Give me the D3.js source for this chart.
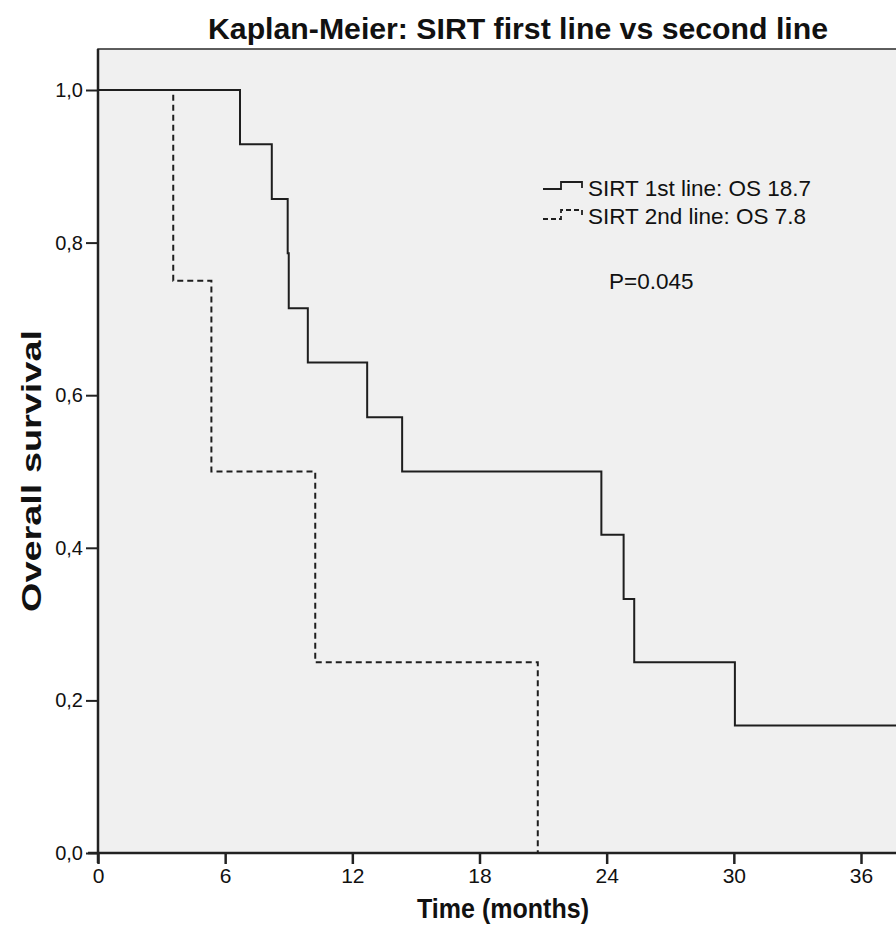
<!DOCTYPE html>
<html>
<head>
    <script src="https://cdnjs.cloudflare.com/ajax/libs/d3/7.8.5/d3.min.js"></script>
    <style>
        body { margin: 0; background: #fff; }
        text { font-family: 'Liberation Sans', Arial, sans-serif; fill: #111; }
    </style>
</head>
<body>
    <div id="root"></div>
    <script>
        // survival steps
        let firstTimes = [0, 6.7, 8.2, 8.95, 9.0, 9.9, 12.7, 14.35, 23.75, 24.8, 25.3, 30.05, 44]
        let firstSurv = [1, 0.929, 0.857, 0.786, 0.714, 0.643, 0.571, 0.5, 0.417, 0.333, 0.25, 0.167, 0.167]
        let secondTimes = [0, 3.55, 5.35, 10.25, 20.75]
        let secondSurv = [1, 0.75, 0.5, 0.25, 0]
        let xTicks = [0, 6, 12, 18, 24, 30, 36]
        let yTicks = [0, 0.2, 0.4, 0.6, 0.8, 1.0]
        let legendLabels = ['SIRT 1st line: OS 18.7', 'SIRT 2nd line: OS 7.8']

        const w = 896
        const h = 938

        const svg = d3.select('#root').append('svg')
            .attr('width', w)
            .attr('height', h)

        const x = d3.scaleLinear().domain([0, 36]).range([98, 861])
        const y = d3.scaleLinear().domain([0, 1]).range([853, 90])

        // plot frame (runs off the right edge like the original)
        svg.append('rect')
            .attr('x', 98).attr('y', 49)
            .attr('width', 860).attr('height', 853 - 49)
            .attr('fill', '#f0f0f0')
            .attr('stroke', '#2a2a2a')
            .attr('stroke-width', 1.5)

        // title
        svg.append('text')
            .attr('x', 518).attr('y', 39)
            .attr('text-anchor', 'middle')
            .attr('font-size', 29)
            .attr('font-weight', 'bold')
            .attr('textLength', 620)
            .attr('lengthAdjust', 'spacingAndGlyphs')
            .text('Kaplan-Meier: SIRT first line vs second line')

        // axes
        const xAxis = svg.append('g')
            .attr('transform', 'translate(0,853)')
            .call(d3.axisBottom(x).tickValues(xTicks).tickSize(11).tickSizeOuter(0).tickPadding(4))
        xAxis.select('.domain').attr('d', 'M88,0H' + (w + 10)).attr('stroke', '#222').attr('stroke-width', 2.5)
        xAxis.selectAll('.tick line').attr('stroke', '#222').attr('stroke-width', 2.5)
        xAxis.selectAll('.tick text')
            .attr('font-size', 21)
            .attr('fill', '#111')
            .attr('font-family', "'Liberation Sans Narrow', 'Liberation Sans', Arial, sans-serif")

        const yAxis = svg.append('g')
            .attr('transform', 'translate(98,0)')
            .call(d3.axisLeft(y).tickValues(yTicks).tickSize(12).tickSizeOuter(0).tickPadding(3)
                .tickFormat(d => d3.format('.1f')(d).replace('.', ',')))
        yAxis.select('.domain').attr('stroke', '#222').attr('stroke-width', 2.5)
            .attr('d', 'M0,49V' + 863)
        yAxis.selectAll('.tick line').attr('stroke', '#222').attr('stroke-width', 2)
        yAxis.selectAll('.tick text').attr('font-size', 20).attr('fill', '#111')

        // axis titles
        svg.append('text')
            .attr('x', 503).attr('y', 918)
            .attr('text-anchor', 'middle')
            .attr('font-size', 27)
            .attr('font-weight', 'bold')
            .attr('textLength', 172)
            .attr('lengthAdjust', 'spacingAndGlyphs')
            .text('Time (months)')

        svg.append('text')
            .attr('transform', 'translate(41,471) rotate(-90)')
            .attr('text-anchor', 'middle')
            .attr('font-size', 28)
            .attr('font-weight', 'bold')
            .attr('textLength', 282)
            .attr('lengthAdjust', 'spacingAndGlyphs')
            .text('Overall survival')

        // curves
        const line = d3.line()
            .x(d => x(d[0]))
            .y(d => y(d[1]))
            .curve(d3.curveStepAfter)

        const clip = svg.append('clipPath').attr('id', 'plotclip')
        clip.append('rect').attr('x', 98).attr('y', 49).attr('width', 860).attr('height', 806)

        const g = svg.append('g').attr('clip-path', 'url(#plotclip)')

        g.append('path')
            .datum(firstTimes.map((t, i) => [t, firstSurv[i]]))
            .attr('d', line)
            .attr('fill', 'none')
            .attr('stroke', '#1e1e1e')
            .attr('stroke-width', 2)

        g.append('path')
            .datum(secondTimes.map((t, i) => [t, secondSurv[i]]))
            .attr('d', line)
            .attr('fill', 'none')
            .attr('stroke', '#1e1e1e')
            .attr('stroke-width', 2)
            .attr('stroke-dasharray', '6,4')

        // legend
        const leg = svg.append('g')
        leg.append('path')
            .attr('d', 'M543,189H561V182H582V188')
            .attr('fill', 'none').attr('stroke', '#1e1e1e').attr('stroke-width', 1.8)
        leg.append('path')
            .attr('d', 'M543,219H561V210H582V215')
            .attr('fill', 'none').attr('stroke', '#1e1e1e').attr('stroke-width', 1.8)
            .attr('stroke-dasharray', '5,3')
        leg.selectAll('text.lab')
            .data(legendLabels)
            .enter()
            .append('text')
            .attr('class', 'lab')
            .attr('x', 588)
            .attr('y', (d, i) => 196 + i * 28)
            .attr('font-size', 22.5)
            .text(d => d)

        svg.append('text')
            .attr('x', 609).attr('y', 289)
            .attr('font-size', 22.5)
            .text('P=0.045')
    </script>
</body>
</html>
